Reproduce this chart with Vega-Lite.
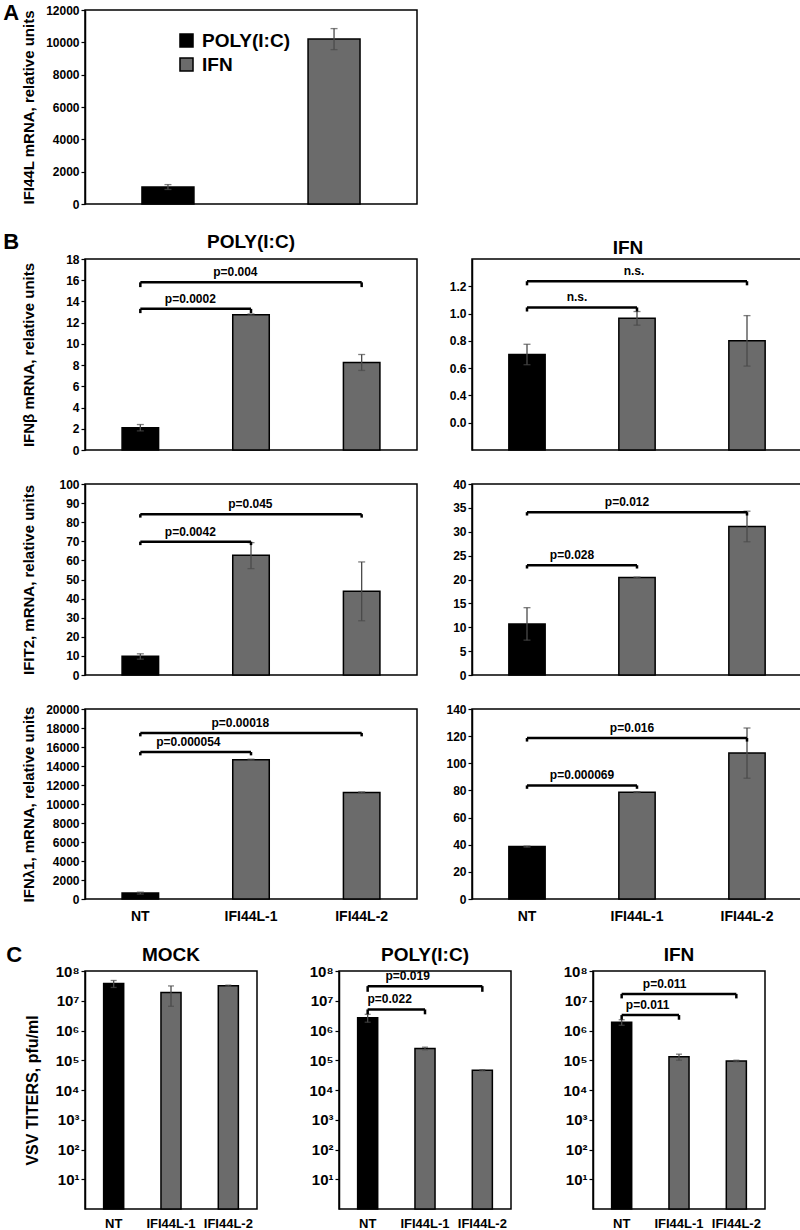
{
"$schema": "https://vega.github.io/schema/vega-lite/v6.json",
"background": "white",
"padding": {"left": 3, "top": 2, "right": 0, "bottom": 0},
"datasets": {
"bars": [
{"panel":"A","g":"POLY(I:C)","v":1050,"lo":900,"hi":1200},
{"panel":"A","g":"IFN","v":10200,"lo":9550,"hi":10850},
{"panel":"b1p","g":"NT","v":2.1,"lo":1.8,"hi":2.4},
{"panel":"b1p","g":"IFI44L-1","v":12.75,"lo":12.68,"hi":12.82},
{"panel":"b1p","g":"IFI44L-2","v":8.25,"lo":7.5,"hi":9.0},
{"panel":"b1i","g":"NT","v":0.70,"lo":0.625,"hi":0.775},
{"panel":"b1i","g":"IFI44L-1","v":0.965,"lo":0.915,"hi":1.015},
{"panel":"b1i","g":"IFI44L-2","v":0.80,"lo":0.615,"hi":0.985},
{"panel":"b2p","g":"NT","v":9.8,"lo":8.3,"hi":11.1},
{"panel":"b2p","g":"IFI44L-1","v":62.7,"lo":55.7,"hi":69.3},
{"panel":"b2p","g":"IFI44L-2","v":43.8,"lo":28.4,"hi":59.2},
{"panel":"b2i","g":"NT","v":10.7,"lo":7.3,"hi":14.1},
{"panel":"b2i","g":"IFI44L-1","v":20.4,"lo":20.3,"hi":20.5},
{"panel":"b2i","g":"IFI44L-2","v":31.1,"lo":27.9,"hi":34.3},
{"panel":"b3p","g":"NT","v":620,"lo":520,"hi":720},
{"panel":"b3p","g":"IFI44L-1","v":14660,"lo":14600,"hi":14720},
{"panel":"b3p","g":"IFI44L-2","v":11220,"lo":11170,"hi":11270},
{"panel":"b3i","g":"NT","v":38.6,"lo":38.2,"hi":39.0},
{"panel":"b3i","g":"IFI44L-1","v":78.7,"lo":78.3,"hi":79.1},
{"panel":"b3i","g":"IFI44L-2","v":107.5,"lo":89,"hi":126},
{"panel":"cm","g":"NT","v":38000000,"lo":28000000,"hi":48000000},
{"panel":"cm","g":"IFI44L-1","v":19000000,"lo":6500000,"hi":31500000},
{"panel":"cm","g":"IFI44L-2","v":32000000,"lo":30500000,"hi":33500000},
{"panel":"cp","g":"NT","v":2700000,"lo":1900000,"hi":3500000},
{"panel":"cp","g":"IFI44L-1","v":250000,"lo":225000,"hi":275000},
{"panel":"cp","g":"IFI44L-2","v":46000,"lo":44000,"hi":48000},
{"panel":"ci","g":"NT","v":1900000,"lo":1500000,"hi":2300000},
{"panel":"ci","g":"IFI44L-1","v":130000,"lo":100000,"hi":160000},
{"panel":"ci","g":"IFI44L-2","v":95000,"lo":89000,"hi":100000}
],
"br": [
{"panel":"b1p","kind":"s","a":"NT","b":"IFI44L-1","y":13.3,"ye":12.9,"label":"p=0.0002"},
{"panel":"b1p","kind":"l","a":"NT","b":"IFI44L-2","y":15.8,"ye":15.35,"label":"p=0.004"},
{"panel":"b1i","kind":"s","a":"NT","b":"IFI44L-1","y":1.045,"ye":1.015,"label":"n.s."},
{"panel":"b1i","kind":"l","a":"NT","b":"IFI44L-2","y":1.237,"ye":1.207,"label":"n.s."},
{"panel":"b2p","kind":"s","a":"NT","b":"IFI44L-1","y":69.8,"ye":68,"label":"p=0.0042"},
{"panel":"b2p","kind":"l","a":"NT","b":"IFI44L-2","y":84.2,"ye":82.4,"label":"p=0.045"},
{"panel":"b2i","kind":"s","a":"NT","b":"IFI44L-1","y":23.0,"ye":22.3,"label":"p=0.028"},
{"panel":"b2i","kind":"l","a":"NT","b":"IFI44L-2","y":34.1,"ye":33.4,"label":"p=0.012"},
{"panel":"b3p","kind":"s","a":"NT","b":"IFI44L-1","y":15470,"ye":15120,"label":"p=0.000054"},
{"panel":"b3p","kind":"l","a":"NT","b":"IFI44L-2","y":17480,"ye":17120,"label":"p=0.00018"},
{"panel":"b3i","kind":"s","a":"NT","b":"IFI44L-1","y":83.7,"ye":81.2,"label":"p=0.000069"},
{"panel":"b3i","kind":"l","a":"NT","b":"IFI44L-2","y":118.6,"ye":116,"label":"p=0.016"},
{"panel":"cp","kind":"s","a":"NT","b":"IFI44L-1","y":5100000,"ye":3500000,"label":"p=0.022"},
{"panel":"cp","kind":"l","a":"NT","b":"IFI44L-2","y":31000000,"ye":20000000,"label":"p=0.019"},
{"panel":"ci","kind":"s","a":"NT","b":"IFI44L-1","y":3300000,"ye":2300000,"label":"p=0.011"},
{"panel":"ci","kind":"l","a":"NT","b":"IFI44L-2","y":17000000,"ye":12000000,"label":"p=0.011"}
]
},
"config": {
"font": "Liberation Sans",
"view": {"stroke": "black", "strokeWidth": 1.5},
"axis": {"grid": false, "domainColor": "black", "domainWidth": 1.5, "tickColor": "black", "tickWidth": 1.2, "tickSize": 4, "labelFont": "Liberation Sans", "labelFontWeight": "bold", "labelFontSize": 12, "labelColor": "black", "labelPadding": 2, "labelOverlap": false, "titleFont": "Liberation Sans", "titleFontWeight": "bold", "titleFontSize": 15, "titleColor": "black"},
"title": {"font": "Liberation Sans", "fontWeight": "bold", "fontSize": 19, "color": "black", "frame": "group", "offset": 4}
},
"spacing": 20,
"resolve": {"scale": {"x": "independent", "y": "independent", "color": "independent"}},
"vconcat": [
{
"title": {"text": "A", "anchor": "start", "frame": "bounds", "fontSize": 22, "dx": -17, "dy": 22, "offset": 0},
"resolve": {"scale": {"x": "independent", "y": "independent", "color": "independent"}},
"hconcat": [
{
"width": 332, "height": 194,
"layer": [
{"data": {"name": "bars"}, "transform": [{"filter": "datum.panel === 'A'"}],
 "mark": {"type": "bar", "stroke": "black", "strokeWidth": 1.5},
 "encoding": {
  "x": {"field": "g", "type": "nominal", "scale": {"domain": ["POLY(I:C)", "IFN"], "paddingInner": 0.687, "paddingOuter": 0.343}, "axis": null},
  "y": {"field": "v", "type": "quantitative", "scale": {"domain": [0, 12000], "nice": false}, "axis": {"title": "IFI44L mRNA, relative units", "values": [0,2000,4000,6000,8000,10000,12000], "tickCount": 30, "format": "d", "labelOverlap": false, "minExtent": 44, "maxExtent": 44, "titlePadding": 5}},
  "color": {"field": "g", "type": "nominal", "scale": {"domain": ["POLY(I:C)", "IFN"], "range": ["#000000", "#6b6b6b"]},
   "legend": {"orient": "none", "legendX": 92, "legendY": 21, "title": null, "symbolType": "square", "symbolSize": 170, "symbolStrokeColor": "black", "symbolStrokeWidth": 1.5, "symbolOpacity": 1, "labelFontSize": 19, "labelFontWeight": "bold", "labelColor": "black", "labelFont": "Liberation Sans", "rowPadding": 3, "labelOffset": 6, "padding": 0}}
 }},
{"data": {"name": "bars"}, "transform": [{"filter": "datum.panel === 'A'"}],
 "mark": {"type": "rule", "color": "#4a4a4a", "strokeWidth": 1.3},
 "encoding": {"x": {"field": "g", "type": "nominal", "scale": {"domain": ["POLY(I:C)", "IFN"], "paddingInner": 0.687, "paddingOuter": 0.343}, "axis": null}, "y": {"field": "lo", "type": "quantitative"}, "y2": {"field": "hi"}}},
{"data": {"name": "bars"}, "transform": [{"filter": "datum.panel === 'A'"}],
 "mark": {"type": "tick", "color": "#4a4a4a", "size": 7, "thickness": 1.3},
 "encoding": {"x": {"field": "g", "type": "nominal", "scale": {"domain": ["POLY(I:C)", "IFN"], "paddingInner": 0.687, "paddingOuter": 0.343}, "axis": null}, "y": {"field": "lo", "type": "quantitative"}}},
{"data": {"name": "bars"}, "transform": [{"filter": "datum.panel === 'A'"}],
 "mark": {"type": "tick", "color": "#4a4a4a", "size": 7, "thickness": 1.3},
 "encoding": {"x": {"field": "g", "type": "nominal", "scale": {"domain": ["POLY(I:C)", "IFN"], "paddingInner": 0.687, "paddingOuter": 0.343}, "axis": null}, "y": {"field": "hi", "type": "quantitative"}}}
]
}
]
},
{
"title": {"text": "B", "anchor": "start", "frame": "bounds", "fontSize": 22, "dx": -17, "dy": 22, "offset": 0},
"resolve": {"scale": {"x": "independent", "y": "independent", "color": "independent"}},
"columns": 2,
"spacing": {"row": 20, "column": 27},
"concat": [
{
"width": 332, "height": 191,
"title": {"text": "POLY(I:C)", "offset": 1},
"layer": [
{"data": {"name": "bars"}, "transform": [{"filter": "datum.panel === 'b1p'"}],
 "mark": {"type": "bar", "stroke": "black", "strokeWidth": 1.5},
 "encoding": {
  "x": {"field": "g", "type": "nominal", "scale": {"domain": ["NT","IFI44L-1","IFI44L-2"], "paddingInner": 0.67, "paddingOuter": 0.335}, "axis": null},
  "y": {"field": "v", "type": "quantitative", "scale": {"domain": [0, 18], "nice": false}, "axis": {"title": "IFNβ mRNA, relative units", "values": [0,2,4,6,8,10,12,14,16,18], "tickCount": 30, "format": "d", "labelOverlap": false, "minExtent": 44, "maxExtent": 44, "titlePadding": 5}},
  "color": {"field": "g", "type": "nominal", "scale": {"domain": ["NT","IFI44L-1","IFI44L-2"], "range": ["#000000","#6b6b6b","#6b6b6b"]}, "legend": null}}},
{"data": {"name": "bars"}, "transform": [{"filter": "datum.panel === 'b1p'"}], "mark": {"type": "rule", "color": "#4a4a4a", "strokeWidth": 1.3},
 "encoding": {"x": {"field": "g", "type": "nominal", "scale": {"domain": ["NT","IFI44L-1","IFI44L-2"], "paddingInner": 0.67, "paddingOuter": 0.335}, "axis": null}, "y": {"field": "lo", "type": "quantitative"}, "y2": {"field": "hi"}}},
{"data": {"name": "bars"}, "transform": [{"filter": "datum.panel === 'b1p'"}], "mark": {"type": "tick", "color": "#4a4a4a", "size": 7, "thickness": 1.3},
 "encoding": {"x": {"field": "g", "type": "nominal", "scale": {"domain": ["NT","IFI44L-1","IFI44L-2"], "paddingInner": 0.67, "paddingOuter": 0.335}, "axis": null}, "y": {"field": "lo", "type": "quantitative"}}},
{"data": {"name": "bars"}, "transform": [{"filter": "datum.panel === 'b1p'"}], "mark": {"type": "tick", "color": "#4a4a4a", "size": 7, "thickness": 1.3},
 "encoding": {"x": {"field": "g", "type": "nominal", "scale": {"domain": ["NT","IFI44L-1","IFI44L-2"], "paddingInner": 0.67, "paddingOuter": 0.335}, "axis": null}, "y": {"field": "hi", "type": "quantitative"}}},
{"data": {"name": "br"}, "transform": [{"filter": "datum.panel === 'b1p'"}], "mark": {"type": "rule", "color": "black", "strokeWidth": 2.5},
 "encoding": {"x": {"field": "a", "type": "nominal", "scale": {"domain": ["NT","IFI44L-1","IFI44L-2"], "paddingInner": 0.67, "paddingOuter": 0.335}, "axis": null}, "x2": {"field": "b"}, "y": {"field": "y", "type": "quantitative"}}},
{"data": {"name": "br"}, "transform": [{"filter": "datum.panel === 'b1p'"}], "mark": {"type": "rule", "color": "black", "strokeWidth": 2.5},
 "encoding": {"x": {"field": "a", "type": "nominal", "scale": {"domain": ["NT","IFI44L-1","IFI44L-2"], "paddingInner": 0.67, "paddingOuter": 0.335}, "axis": null}, "y": {"field": "y", "type": "quantitative"}, "y2": {"field": "ye"}}},
{"data": {"name": "br"}, "transform": [{"filter": "datum.panel === 'b1p'"}], "mark": {"type": "rule", "color": "black", "strokeWidth": 2.5},
 "encoding": {"x": {"field": "b", "type": "nominal", "scale": {"domain": ["NT","IFI44L-1","IFI44L-2"], "paddingInner": 0.67, "paddingOuter": 0.335}, "axis": null}, "y": {"field": "y", "type": "quantitative"}, "y2": {"field": "ye"}}},
{"data": {"name": "br"}, "transform": [{"filter": "datum.panel === 'b1p' && datum.kind === 's'"}], "mark": {"type": "text", "dx": 50, "dy": -3, "baseline": "bottom", "fontSize": 12, "fontWeight": "bold", "color": "black"},
 "encoding": {"x": {"field": "a", "type": "nominal", "scale": {"domain": ["NT","IFI44L-1","IFI44L-2"], "paddingInner": 0.67, "paddingOuter": 0.335}, "axis": null}, "y": {"field": "y", "type": "quantitative"}, "text": {"field": "label"}}},
{"data": {"name": "br"}, "transform": [{"filter": "datum.panel === 'b1p' && datum.kind === 'l'"}], "mark": {"type": "text", "dx": 95, "dy": -3, "baseline": "bottom", "fontSize": 12, "fontWeight": "bold", "color": "black"},
 "encoding": {"x": {"field": "a", "type": "nominal", "scale": {"domain": ["NT","IFI44L-1","IFI44L-2"], "paddingInner": 0.67, "paddingOuter": 0.335}, "axis": null}, "y": {"field": "y", "type": "quantitative"}, "text": {"field": "label"}}}
]
},
{
"width": 330, "height": 191,
"title": {"text": "IFN", "offset": 1, "dx": -9},
"layer": [
{"data": {"name": "bars"}, "transform": [{"filter": "datum.panel === 'b1i'"}],
 "mark": {"type": "bar", "stroke": "black", "strokeWidth": 1.5},
 "encoding": {
  "x": {"field": "g", "type": "nominal", "scale": {"domain": ["NT","IFI44L-1","IFI44L-2"], "paddingInner": 0.67, "paddingOuter": 0.335}, "axis": null},
  "y": {"field": "v", "type": "quantitative", "scale": {"domain": [0, 1.4], "nice": false}, "axis": {"title": null, "values": [0.2,0.4,0.6,0.8,1.0,1.2], "tickCount": 30, "labelOverlap": false, "labelExpr": "datum.value < 0.3 ? '0.0' : format(datum.value, '.1f')"}},
  "color": {"field": "g", "type": "nominal", "scale": {"domain": ["NT","IFI44L-1","IFI44L-2"], "range": ["#000000","#6b6b6b","#6b6b6b"]}, "legend": null}}},
{"data": {"name": "bars"}, "transform": [{"filter": "datum.panel === 'b1i'"}], "mark": {"type": "rule", "color": "#4a4a4a", "strokeWidth": 1.3},
 "encoding": {"x": {"field": "g", "type": "nominal", "scale": {"domain": ["NT","IFI44L-1","IFI44L-2"], "paddingInner": 0.67, "paddingOuter": 0.335}, "axis": null}, "y": {"field": "lo", "type": "quantitative"}, "y2": {"field": "hi"}}},
{"data": {"name": "bars"}, "transform": [{"filter": "datum.panel === 'b1i'"}], "mark": {"type": "tick", "color": "#4a4a4a", "size": 7, "thickness": 1.3},
 "encoding": {"x": {"field": "g", "type": "nominal", "scale": {"domain": ["NT","IFI44L-1","IFI44L-2"], "paddingInner": 0.67, "paddingOuter": 0.335}, "axis": null}, "y": {"field": "lo", "type": "quantitative"}}},
{"data": {"name": "bars"}, "transform": [{"filter": "datum.panel === 'b1i'"}], "mark": {"type": "tick", "color": "#4a4a4a", "size": 7, "thickness": 1.3},
 "encoding": {"x": {"field": "g", "type": "nominal", "scale": {"domain": ["NT","IFI44L-1","IFI44L-2"], "paddingInner": 0.67, "paddingOuter": 0.335}, "axis": null}, "y": {"field": "hi", "type": "quantitative"}}},
{"data": {"name": "br"}, "transform": [{"filter": "datum.panel === 'b1i'"}], "mark": {"type": "rule", "color": "black", "strokeWidth": 2.5},
 "encoding": {"x": {"field": "a", "type": "nominal", "scale": {"domain": ["NT","IFI44L-1","IFI44L-2"], "paddingInner": 0.67, "paddingOuter": 0.335}, "axis": null}, "x2": {"field": "b"}, "y": {"field": "y", "type": "quantitative"}}},
{"data": {"name": "br"}, "transform": [{"filter": "datum.panel === 'b1i'"}], "mark": {"type": "rule", "color": "black", "strokeWidth": 2.5},
 "encoding": {"x": {"field": "a", "type": "nominal", "scale": {"domain": ["NT","IFI44L-1","IFI44L-2"], "paddingInner": 0.67, "paddingOuter": 0.335}, "axis": null}, "y": {"field": "y", "type": "quantitative"}, "y2": {"field": "ye"}}},
{"data": {"name": "br"}, "transform": [{"filter": "datum.panel === 'b1i'"}], "mark": {"type": "rule", "color": "black", "strokeWidth": 2.5},
 "encoding": {"x": {"field": "b", "type": "nominal", "scale": {"domain": ["NT","IFI44L-1","IFI44L-2"], "paddingInner": 0.67, "paddingOuter": 0.335}, "axis": null}, "y": {"field": "y", "type": "quantitative"}, "y2": {"field": "ye"}}},
{"data": {"name": "br"}, "transform": [{"filter": "datum.panel === 'b1i' && datum.kind === 's'"}], "mark": {"type": "text", "dx": 50, "dy": -3, "baseline": "bottom", "fontSize": 12, "fontWeight": "bold", "color": "black"},
 "encoding": {"x": {"field": "a", "type": "nominal", "scale": {"domain": ["NT","IFI44L-1","IFI44L-2"], "paddingInner": 0.67, "paddingOuter": 0.335}, "axis": null}, "y": {"field": "y", "type": "quantitative"}, "text": {"field": "label"}}},
{"data": {"name": "br"}, "transform": [{"filter": "datum.panel === 'b1i' && datum.kind === 'l'"}], "mark": {"type": "text", "dx": 107, "dy": -3, "baseline": "bottom", "fontSize": 12, "fontWeight": "bold", "color": "black"},
 "encoding": {"x": {"field": "a", "type": "nominal", "scale": {"domain": ["NT","IFI44L-1","IFI44L-2"], "paddingInner": 0.67, "paddingOuter": 0.335}, "axis": null}, "y": {"field": "y", "type": "quantitative"}, "text": {"field": "label"}}}
]
},
{
"width": 332, "height": 191,
"layer": [
{"data": {"name": "bars"}, "transform": [{"filter": "datum.panel === 'b2p'"}],
 "mark": {"type": "bar", "stroke": "black", "strokeWidth": 1.5},
 "encoding": {
  "x": {"field": "g", "type": "nominal", "scale": {"domain": ["NT","IFI44L-1","IFI44L-2"], "paddingInner": 0.67, "paddingOuter": 0.335}, "axis": null},
  "y": {"field": "v", "type": "quantitative", "scale": {"domain": [0, 100], "nice": false}, "axis": {"title": "IFIT2, mRNA, relative units", "values": [0,10,20,30,40,50,60,70,80,90,100], "tickCount": 30, "format": "d", "labelOverlap": false, "minExtent": 44, "maxExtent": 44, "titlePadding": 5}},
  "color": {"field": "g", "type": "nominal", "scale": {"domain": ["NT","IFI44L-1","IFI44L-2"], "range": ["#000000","#6b6b6b","#6b6b6b"]}, "legend": null}}},
{"data": {"name": "bars"}, "transform": [{"filter": "datum.panel === 'b2p'"}], "mark": {"type": "rule", "color": "#4a4a4a", "strokeWidth": 1.3},
 "encoding": {"x": {"field": "g", "type": "nominal", "scale": {"domain": ["NT","IFI44L-1","IFI44L-2"], "paddingInner": 0.67, "paddingOuter": 0.335}, "axis": null}, "y": {"field": "lo", "type": "quantitative"}, "y2": {"field": "hi"}}},
{"data": {"name": "bars"}, "transform": [{"filter": "datum.panel === 'b2p'"}], "mark": {"type": "tick", "color": "#4a4a4a", "size": 7, "thickness": 1.3},
 "encoding": {"x": {"field": "g", "type": "nominal", "scale": {"domain": ["NT","IFI44L-1","IFI44L-2"], "paddingInner": 0.67, "paddingOuter": 0.335}, "axis": null}, "y": {"field": "lo", "type": "quantitative"}}},
{"data": {"name": "bars"}, "transform": [{"filter": "datum.panel === 'b2p'"}], "mark": {"type": "tick", "color": "#4a4a4a", "size": 7, "thickness": 1.3},
 "encoding": {"x": {"field": "g", "type": "nominal", "scale": {"domain": ["NT","IFI44L-1","IFI44L-2"], "paddingInner": 0.67, "paddingOuter": 0.335}, "axis": null}, "y": {"field": "hi", "type": "quantitative"}}},
{"data": {"name": "br"}, "transform": [{"filter": "datum.panel === 'b2p'"}], "mark": {"type": "rule", "color": "black", "strokeWidth": 2.5},
 "encoding": {"x": {"field": "a", "type": "nominal", "scale": {"domain": ["NT","IFI44L-1","IFI44L-2"], "paddingInner": 0.67, "paddingOuter": 0.335}, "axis": null}, "x2": {"field": "b"}, "y": {"field": "y", "type": "quantitative"}}},
{"data": {"name": "br"}, "transform": [{"filter": "datum.panel === 'b2p'"}], "mark": {"type": "rule", "color": "black", "strokeWidth": 2.5},
 "encoding": {"x": {"field": "a", "type": "nominal", "scale": {"domain": ["NT","IFI44L-1","IFI44L-2"], "paddingInner": 0.67, "paddingOuter": 0.335}, "axis": null}, "y": {"field": "y", "type": "quantitative"}, "y2": {"field": "ye"}}},
{"data": {"name": "br"}, "transform": [{"filter": "datum.panel === 'b2p'"}], "mark": {"type": "rule", "color": "black", "strokeWidth": 2.5},
 "encoding": {"x": {"field": "b", "type": "nominal", "scale": {"domain": ["NT","IFI44L-1","IFI44L-2"], "paddingInner": 0.67, "paddingOuter": 0.335}, "axis": null}, "y": {"field": "y", "type": "quantitative"}, "y2": {"field": "ye"}}},
{"data": {"name": "br"}, "transform": [{"filter": "datum.panel === 'b2p' && datum.kind === 's'"}], "mark": {"type": "text", "dx": 50, "dy": -3, "baseline": "bottom", "fontSize": 12, "fontWeight": "bold", "color": "black"},
 "encoding": {"x": {"field": "a", "type": "nominal", "scale": {"domain": ["NT","IFI44L-1","IFI44L-2"], "paddingInner": 0.67, "paddingOuter": 0.335}, "axis": null}, "y": {"field": "y", "type": "quantitative"}, "text": {"field": "label"}}},
{"data": {"name": "br"}, "transform": [{"filter": "datum.panel === 'b2p' && datum.kind === 'l'"}], "mark": {"type": "text", "dx": 110, "dy": -3, "baseline": "bottom", "fontSize": 12, "fontWeight": "bold", "color": "black"},
 "encoding": {"x": {"field": "a", "type": "nominal", "scale": {"domain": ["NT","IFI44L-1","IFI44L-2"], "paddingInner": 0.67, "paddingOuter": 0.335}, "axis": null}, "y": {"field": "y", "type": "quantitative"}, "text": {"field": "label"}}}
]
},
{
"width": 330, "height": 191,
"layer": [
{"data": {"name": "bars"}, "transform": [{"filter": "datum.panel === 'b2i'"}],
 "mark": {"type": "bar", "stroke": "black", "strokeWidth": 1.5},
 "encoding": {
  "x": {"field": "g", "type": "nominal", "scale": {"domain": ["NT","IFI44L-1","IFI44L-2"], "paddingInner": 0.67, "paddingOuter": 0.335}, "axis": null},
  "y": {"field": "v", "type": "quantitative", "scale": {"domain": [0, 40], "nice": false}, "axis": {"title": null, "values": [0,5,10,15,20,25,30,35,40], "tickCount": 30, "format": "d", "labelOverlap": false}},
  "color": {"field": "g", "type": "nominal", "scale": {"domain": ["NT","IFI44L-1","IFI44L-2"], "range": ["#000000","#6b6b6b","#6b6b6b"]}, "legend": null}}},
{"data": {"name": "bars"}, "transform": [{"filter": "datum.panel === 'b2i'"}], "mark": {"type": "rule", "color": "#4a4a4a", "strokeWidth": 1.3},
 "encoding": {"x": {"field": "g", "type": "nominal", "scale": {"domain": ["NT","IFI44L-1","IFI44L-2"], "paddingInner": 0.67, "paddingOuter": 0.335}, "axis": null}, "y": {"field": "lo", "type": "quantitative"}, "y2": {"field": "hi"}}},
{"data": {"name": "bars"}, "transform": [{"filter": "datum.panel === 'b2i'"}], "mark": {"type": "tick", "color": "#4a4a4a", "size": 7, "thickness": 1.3},
 "encoding": {"x": {"field": "g", "type": "nominal", "scale": {"domain": ["NT","IFI44L-1","IFI44L-2"], "paddingInner": 0.67, "paddingOuter": 0.335}, "axis": null}, "y": {"field": "lo", "type": "quantitative"}}},
{"data": {"name": "bars"}, "transform": [{"filter": "datum.panel === 'b2i'"}], "mark": {"type": "tick", "color": "#4a4a4a", "size": 7, "thickness": 1.3},
 "encoding": {"x": {"field": "g", "type": "nominal", "scale": {"domain": ["NT","IFI44L-1","IFI44L-2"], "paddingInner": 0.67, "paddingOuter": 0.335}, "axis": null}, "y": {"field": "hi", "type": "quantitative"}}},
{"data": {"name": "br"}, "transform": [{"filter": "datum.panel === 'b2i'"}], "mark": {"type": "rule", "color": "black", "strokeWidth": 2.5},
 "encoding": {"x": {"field": "a", "type": "nominal", "scale": {"domain": ["NT","IFI44L-1","IFI44L-2"], "paddingInner": 0.67, "paddingOuter": 0.335}, "axis": null}, "x2": {"field": "b"}, "y": {"field": "y", "type": "quantitative"}}},
{"data": {"name": "br"}, "transform": [{"filter": "datum.panel === 'b2i'"}], "mark": {"type": "rule", "color": "black", "strokeWidth": 2.5},
 "encoding": {"x": {"field": "a", "type": "nominal", "scale": {"domain": ["NT","IFI44L-1","IFI44L-2"], "paddingInner": 0.67, "paddingOuter": 0.335}, "axis": null}, "y": {"field": "y", "type": "quantitative"}, "y2": {"field": "ye"}}},
{"data": {"name": "br"}, "transform": [{"filter": "datum.panel === 'b2i'"}], "mark": {"type": "rule", "color": "black", "strokeWidth": 2.5},
 "encoding": {"x": {"field": "b", "type": "nominal", "scale": {"domain": ["NT","IFI44L-1","IFI44L-2"], "paddingInner": 0.67, "paddingOuter": 0.335}, "axis": null}, "y": {"field": "y", "type": "quantitative"}, "y2": {"field": "ye"}}},
{"data": {"name": "br"}, "transform": [{"filter": "datum.panel === 'b2i' && datum.kind === 's'"}], "mark": {"type": "text", "dx": 45, "dy": -3, "baseline": "bottom", "fontSize": 12, "fontWeight": "bold", "color": "black"},
 "encoding": {"x": {"field": "a", "type": "nominal", "scale": {"domain": ["NT","IFI44L-1","IFI44L-2"], "paddingInner": 0.67, "paddingOuter": 0.335}, "axis": null}, "y": {"field": "y", "type": "quantitative"}, "text": {"field": "label"}}},
{"data": {"name": "br"}, "transform": [{"filter": "datum.panel === 'b2i' && datum.kind === 'l'"}], "mark": {"type": "text", "dx": 100, "dy": -3, "baseline": "bottom", "fontSize": 12, "fontWeight": "bold", "color": "black"},
 "encoding": {"x": {"field": "a", "type": "nominal", "scale": {"domain": ["NT","IFI44L-1","IFI44L-2"], "paddingInner": 0.67, "paddingOuter": 0.335}, "axis": null}, "y": {"field": "y", "type": "quantitative"}, "text": {"field": "label"}}}
]
},
{
"width": 332, "height": 190,
"layer": [
{"data": {"name": "bars"}, "transform": [{"filter": "datum.panel === 'b3p'"}],
 "mark": {"type": "bar", "stroke": "black", "strokeWidth": 1.5},
 "encoding": {
  "x": {"field": "g", "type": "nominal", "scale": {"domain": ["NT","IFI44L-1","IFI44L-2"], "paddingInner": 0.67, "paddingOuter": 0.335}, "axis": {"title": null, "labelFontSize": 14, "labelPadding": 10, "ticks": false, "domain": false, "labelAngle": 0}},
  "y": {"field": "v", "type": "quantitative", "scale": {"domain": [0, 20000], "nice": false}, "axis": {"title": "IFNλ1, mRNA, relative units", "values": [0,2000,4000,6000,8000,10000,12000,14000,16000,18000,20000], "tickCount": 30, "format": "d", "labelOverlap": false, "minExtent": 44, "maxExtent": 44, "titlePadding": 5}},
  "color": {"field": "g", "type": "nominal", "scale": {"domain": ["NT","IFI44L-1","IFI44L-2"], "range": ["#000000","#6b6b6b","#6b6b6b"]}, "legend": null}}},
{"data": {"name": "bars"}, "transform": [{"filter": "datum.panel === 'b3p'"}], "mark": {"type": "rule", "color": "#4a4a4a", "strokeWidth": 1.3},
 "encoding": {"x": {"field": "g", "type": "nominal", "scale": {"domain": ["NT","IFI44L-1","IFI44L-2"], "paddingInner": 0.67, "paddingOuter": 0.335}}, "y": {"field": "lo", "type": "quantitative"}, "y2": {"field": "hi"}}},
{"data": {"name": "bars"}, "transform": [{"filter": "datum.panel === 'b3p'"}], "mark": {"type": "tick", "color": "#4a4a4a", "size": 7, "thickness": 1.3},
 "encoding": {"x": {"field": "g", "type": "nominal", "scale": {"domain": ["NT","IFI44L-1","IFI44L-2"], "paddingInner": 0.67, "paddingOuter": 0.335}}, "y": {"field": "lo", "type": "quantitative"}}},
{"data": {"name": "bars"}, "transform": [{"filter": "datum.panel === 'b3p'"}], "mark": {"type": "tick", "color": "#4a4a4a", "size": 7, "thickness": 1.3},
 "encoding": {"x": {"field": "g", "type": "nominal", "scale": {"domain": ["NT","IFI44L-1","IFI44L-2"], "paddingInner": 0.67, "paddingOuter": 0.335}}, "y": {"field": "hi", "type": "quantitative"}}},
{"data": {"name": "br"}, "transform": [{"filter": "datum.panel === 'b3p'"}], "mark": {"type": "rule", "color": "black", "strokeWidth": 2.5},
 "encoding": {"x": {"field": "a", "type": "nominal", "scale": {"domain": ["NT","IFI44L-1","IFI44L-2"], "paddingInner": 0.67, "paddingOuter": 0.335}}, "x2": {"field": "b"}, "y": {"field": "y", "type": "quantitative"}}},
{"data": {"name": "br"}, "transform": [{"filter": "datum.panel === 'b3p'"}], "mark": {"type": "rule", "color": "black", "strokeWidth": 2.5},
 "encoding": {"x": {"field": "a", "type": "nominal", "scale": {"domain": ["NT","IFI44L-1","IFI44L-2"], "paddingInner": 0.67, "paddingOuter": 0.335}}, "y": {"field": "y", "type": "quantitative"}, "y2": {"field": "ye"}}},
{"data": {"name": "br"}, "transform": [{"filter": "datum.panel === 'b3p'"}], "mark": {"type": "rule", "color": "black", "strokeWidth": 2.5},
 "encoding": {"x": {"field": "b", "type": "nominal", "scale": {"domain": ["NT","IFI44L-1","IFI44L-2"], "paddingInner": 0.67, "paddingOuter": 0.335}}, "y": {"field": "y", "type": "quantitative"}, "y2": {"field": "ye"}}},
{"data": {"name": "br"}, "transform": [{"filter": "datum.panel === 'b3p' && datum.kind === 's'"}], "mark": {"type": "text", "dx": 48, "dy": -3, "baseline": "bottom", "fontSize": 12, "fontWeight": "bold", "color": "black"},
 "encoding": {"x": {"field": "a", "type": "nominal", "scale": {"domain": ["NT","IFI44L-1","IFI44L-2"], "paddingInner": 0.67, "paddingOuter": 0.335}}, "y": {"field": "y", "type": "quantitative"}, "text": {"field": "label"}}},
{"data": {"name": "br"}, "transform": [{"filter": "datum.panel === 'b3p' && datum.kind === 'l'"}], "mark": {"type": "text", "dx": 100, "dy": -3, "baseline": "bottom", "fontSize": 12, "fontWeight": "bold", "color": "black"},
 "encoding": {"x": {"field": "a", "type": "nominal", "scale": {"domain": ["NT","IFI44L-1","IFI44L-2"], "paddingInner": 0.67, "paddingOuter": 0.335}}, "y": {"field": "y", "type": "quantitative"}, "text": {"field": "label"}}}
]
},
{
"width": 330, "height": 190,
"layer": [
{"data": {"name": "bars"}, "transform": [{"filter": "datum.panel === 'b3i'"}],
 "mark": {"type": "bar", "stroke": "black", "strokeWidth": 1.5},
 "encoding": {
  "x": {"field": "g", "type": "nominal", "scale": {"domain": ["NT","IFI44L-1","IFI44L-2"], "paddingInner": 0.67, "paddingOuter": 0.335}, "axis": {"title": null, "labelFontSize": 14, "labelPadding": 10, "ticks": false, "domain": false, "labelAngle": 0}},
  "y": {"field": "v", "type": "quantitative", "scale": {"domain": [0, 140], "nice": false}, "axis": {"title": null, "values": [0,20,40,60,80,100,120,140], "tickCount": 30, "format": "d", "labelOverlap": false}},
  "color": {"field": "g", "type": "nominal", "scale": {"domain": ["NT","IFI44L-1","IFI44L-2"], "range": ["#000000","#6b6b6b","#6b6b6b"]}, "legend": null}}},
{"data": {"name": "bars"}, "transform": [{"filter": "datum.panel === 'b3i'"}], "mark": {"type": "rule", "color": "#4a4a4a", "strokeWidth": 1.3},
 "encoding": {"x": {"field": "g", "type": "nominal", "scale": {"domain": ["NT","IFI44L-1","IFI44L-2"], "paddingInner": 0.67, "paddingOuter": 0.335}}, "y": {"field": "lo", "type": "quantitative"}, "y2": {"field": "hi"}}},
{"data": {"name": "bars"}, "transform": [{"filter": "datum.panel === 'b3i'"}], "mark": {"type": "tick", "color": "#4a4a4a", "size": 7, "thickness": 1.3},
 "encoding": {"x": {"field": "g", "type": "nominal", "scale": {"domain": ["NT","IFI44L-1","IFI44L-2"], "paddingInner": 0.67, "paddingOuter": 0.335}}, "y": {"field": "lo", "type": "quantitative"}}},
{"data": {"name": "bars"}, "transform": [{"filter": "datum.panel === 'b3i'"}], "mark": {"type": "tick", "color": "#4a4a4a", "size": 7, "thickness": 1.3},
 "encoding": {"x": {"field": "g", "type": "nominal", "scale": {"domain": ["NT","IFI44L-1","IFI44L-2"], "paddingInner": 0.67, "paddingOuter": 0.335}}, "y": {"field": "hi", "type": "quantitative"}}},
{"data": {"name": "br"}, "transform": [{"filter": "datum.panel === 'b3i'"}], "mark": {"type": "rule", "color": "black", "strokeWidth": 2.5},
 "encoding": {"x": {"field": "a", "type": "nominal", "scale": {"domain": ["NT","IFI44L-1","IFI44L-2"], "paddingInner": 0.67, "paddingOuter": 0.335}}, "x2": {"field": "b"}, "y": {"field": "y", "type": "quantitative"}}},
{"data": {"name": "br"}, "transform": [{"filter": "datum.panel === 'b3i'"}], "mark": {"type": "rule", "color": "black", "strokeWidth": 2.5},
 "encoding": {"x": {"field": "a", "type": "nominal", "scale": {"domain": ["NT","IFI44L-1","IFI44L-2"], "paddingInner": 0.67, "paddingOuter": 0.335}}, "y": {"field": "y", "type": "quantitative"}, "y2": {"field": "ye"}}},
{"data": {"name": "br"}, "transform": [{"filter": "datum.panel === 'b3i'"}], "mark": {"type": "rule", "color": "black", "strokeWidth": 2.5},
 "encoding": {"x": {"field": "b", "type": "nominal", "scale": {"domain": ["NT","IFI44L-1","IFI44L-2"], "paddingInner": 0.67, "paddingOuter": 0.335}}, "y": {"field": "y", "type": "quantitative"}, "y2": {"field": "ye"}}},
{"data": {"name": "br"}, "transform": [{"filter": "datum.panel === 'b3i' && datum.kind === 's'"}], "mark": {"type": "text", "dx": 55, "dy": -3, "baseline": "bottom", "fontSize": 12, "fontWeight": "bold", "color": "black"},
 "encoding": {"x": {"field": "a", "type": "nominal", "scale": {"domain": ["NT","IFI44L-1","IFI44L-2"], "paddingInner": 0.67, "paddingOuter": 0.335}}, "y": {"field": "y", "type": "quantitative"}, "text": {"field": "label"}}},
{"data": {"name": "br"}, "transform": [{"filter": "datum.panel === 'b3i' && datum.kind === 'l'"}], "mark": {"type": "text", "dx": 105, "dy": -3, "baseline": "bottom", "fontSize": 12, "fontWeight": "bold", "color": "black"},
 "encoding": {"x": {"field": "a", "type": "nominal", "scale": {"domain": ["NT","IFI44L-1","IFI44L-2"], "paddingInner": 0.67, "paddingOuter": 0.335}}, "y": {"field": "y", "type": "quantitative"}, "text": {"field": "label"}}}
]
}
]
},
{
"title": {"text": "C", "anchor": "start", "frame": "bounds", "fontSize": 22, "dx": -17, "dy": 22, "offset": 0},
"resolve": {"scale": {"x": "independent", "y": "independent", "color": "independent"}},
"spacing": 50,
"hconcat": [
{
"width": 172, "height": 238,
"title": {"text": "MOCK", "offset": -1},
"layer": [
{"data": {"name": "bars"}, "transform": [{"filter": "datum.panel === 'cm'"}],
 "mark": {"type": "bar", "stroke": "black", "strokeWidth": 1.5},
 "encoding": {
  "x": {"field": "g", "type": "nominal", "scale": {"domain": ["NT","IFI44L-1","IFI44L-2"], "paddingInner": 0.65, "paddingOuter": 0.325}, "axis": {"title": null, "labelFontSize": 13, "labelPadding": 8, "ticks": false, "domain": false, "labelAngle": 0}},
  "y": {"field": "v", "type": "quantitative", "scale": {"type": "log", "domain": [1, 100000000], "nice": false}, "axis": {"title": "VSV TITERS, pfu/ml", "titleFontSize": 16, "values": [10,100,1000,10000,100000,1000000,10000000,100000000], "tickCount": 30, "labelOverlap": false, "labelExpr": "'10' + ['','¹','²','³','⁴','⁵','⁶','⁷','⁸'][round(log(datum.value)/LN10)]", "labelFontSize": 15, "minExtent": 44, "maxExtent": 44, "titlePadding": 1}},
  "y2": {"datum": 1},
  "color": {"field": "g", "type": "nominal", "scale": {"domain": ["NT","IFI44L-1","IFI44L-2"], "range": ["#000000","#6b6b6b","#6b6b6b"]}, "legend": null}}},
{"data": {"name": "bars"}, "transform": [{"filter": "datum.panel === 'cm'"}], "mark": {"type": "rule", "color": "#4a4a4a", "strokeWidth": 1.3},
 "encoding": {"x": {"field": "g", "type": "nominal", "scale": {"domain": ["NT","IFI44L-1","IFI44L-2"], "paddingInner": 0.65, "paddingOuter": 0.325}}, "y": {"field": "lo", "type": "quantitative"}, "y2": {"field": "hi"}}},
{"data": {"name": "bars"}, "transform": [{"filter": "datum.panel === 'cm'"}], "mark": {"type": "tick", "color": "#4a4a4a", "size": 6, "thickness": 1.3},
 "encoding": {"x": {"field": "g", "type": "nominal", "scale": {"domain": ["NT","IFI44L-1","IFI44L-2"], "paddingInner": 0.65, "paddingOuter": 0.325}}, "y": {"field": "lo", "type": "quantitative"}}},
{"data": {"name": "bars"}, "transform": [{"filter": "datum.panel === 'cm'"}], "mark": {"type": "tick", "color": "#4a4a4a", "size": 6, "thickness": 1.3},
 "encoding": {"x": {"field": "g", "type": "nominal", "scale": {"domain": ["NT","IFI44L-1","IFI44L-2"], "paddingInner": 0.65, "paddingOuter": 0.325}}, "y": {"field": "hi", "type": "quantitative"}}}
]
},
{
"width": 172, "height": 238,
"title": {"text": "POLY(I:C)", "offset": -1},
"layer": [
{"data": {"name": "bars"}, "transform": [{"filter": "datum.panel === 'cp'"}],
 "mark": {"type": "bar", "stroke": "black", "strokeWidth": 1.5},
 "encoding": {
  "x": {"field": "g", "type": "nominal", "scale": {"domain": ["NT","IFI44L-1","IFI44L-2"], "paddingInner": 0.65, "paddingOuter": 0.325}, "axis": {"title": null, "labelFontSize": 13, "labelPadding": 8, "ticks": false, "domain": false, "labelAngle": 0}},
  "y": {"field": "v", "type": "quantitative", "scale": {"type": "log", "domain": [1, 100000000], "nice": false}, "axis": {"title": null, "values": [10,100,1000,10000,100000,1000000,10000000,100000000], "tickCount": 30, "labelOverlap": false, "labelExpr": "'10' + ['','¹','²','³','⁴','⁵','⁶','⁷','⁸'][round(log(datum.value)/LN10)]", "labelFontSize": 15}},
  "y2": {"datum": 1},
  "color": {"field": "g", "type": "nominal", "scale": {"domain": ["NT","IFI44L-1","IFI44L-2"], "range": ["#000000","#6b6b6b","#6b6b6b"]}, "legend": null}}},
{"data": {"name": "bars"}, "transform": [{"filter": "datum.panel === 'cp'"}], "mark": {"type": "rule", "color": "#4a4a4a", "strokeWidth": 1.3},
 "encoding": {"x": {"field": "g", "type": "nominal", "scale": {"domain": ["NT","IFI44L-1","IFI44L-2"], "paddingInner": 0.65, "paddingOuter": 0.325}}, "y": {"field": "lo", "type": "quantitative"}, "y2": {"field": "hi"}}},
{"data": {"name": "bars"}, "transform": [{"filter": "datum.panel === 'cp'"}], "mark": {"type": "tick", "color": "#4a4a4a", "size": 6, "thickness": 1.3},
 "encoding": {"x": {"field": "g", "type": "nominal", "scale": {"domain": ["NT","IFI44L-1","IFI44L-2"], "paddingInner": 0.65, "paddingOuter": 0.325}}, "y": {"field": "lo", "type": "quantitative"}}},
{"data": {"name": "bars"}, "transform": [{"filter": "datum.panel === 'cp'"}], "mark": {"type": "tick", "color": "#4a4a4a", "size": 6, "thickness": 1.3},
 "encoding": {"x": {"field": "g", "type": "nominal", "scale": {"domain": ["NT","IFI44L-1","IFI44L-2"], "paddingInner": 0.65, "paddingOuter": 0.325}}, "y": {"field": "hi", "type": "quantitative"}}},
{"data": {"name": "br"}, "transform": [{"filter": "datum.panel === 'cp'"}], "mark": {"type": "rule", "color": "black", "strokeWidth": 2.5},
 "encoding": {"x": {"field": "a", "type": "nominal", "scale": {"domain": ["NT","IFI44L-1","IFI44L-2"], "paddingInner": 0.65, "paddingOuter": 0.325}}, "x2": {"field": "b"}, "y": {"field": "y", "type": "quantitative"}}},
{"data": {"name": "br"}, "transform": [{"filter": "datum.panel === 'cp'"}], "mark": {"type": "rule", "color": "black", "strokeWidth": 2.5},
 "encoding": {"x": {"field": "a", "type": "nominal", "scale": {"domain": ["NT","IFI44L-1","IFI44L-2"], "paddingInner": 0.65, "paddingOuter": 0.325}}, "y": {"field": "y", "type": "quantitative"}, "y2": {"field": "ye"}}},
{"data": {"name": "br"}, "transform": [{"filter": "datum.panel === 'cp'"}], "mark": {"type": "rule", "color": "black", "strokeWidth": 2.5},
 "encoding": {"x": {"field": "b", "type": "nominal", "scale": {"domain": ["NT","IFI44L-1","IFI44L-2"], "paddingInner": 0.65, "paddingOuter": 0.325}}, "y": {"field": "y", "type": "quantitative"}, "y2": {"field": "ye"}}},
{"data": {"name": "br"}, "transform": [{"filter": "datum.panel === 'cp' && datum.kind === 's'"}], "mark": {"type": "text", "dx": 22, "dy": -3, "baseline": "bottom", "fontSize": 12, "fontWeight": "bold", "color": "black"},
 "encoding": {"x": {"field": "a", "type": "nominal", "scale": {"domain": ["NT","IFI44L-1","IFI44L-2"], "paddingInner": 0.65, "paddingOuter": 0.325}}, "y": {"field": "y", "type": "quantitative"}, "text": {"field": "label"}}},
{"data": {"name": "br"}, "transform": [{"filter": "datum.panel === 'cp' && datum.kind === 'l'"}], "mark": {"type": "text", "dx": 40, "dy": -3, "baseline": "bottom", "fontSize": 12, "fontWeight": "bold", "color": "black"},
 "encoding": {"x": {"field": "a", "type": "nominal", "scale": {"domain": ["NT","IFI44L-1","IFI44L-2"], "paddingInner": 0.65, "paddingOuter": 0.325}}, "y": {"field": "y", "type": "quantitative"}, "text": {"field": "label"}}}
]
},
{
"width": 172, "height": 238,
"title": {"text": "IFN", "offset": -1},
"layer": [
{"data": {"name": "bars"}, "transform": [{"filter": "datum.panel === 'ci'"}],
 "mark": {"type": "bar", "stroke": "black", "strokeWidth": 1.5},
 "encoding": {
  "x": {"field": "g", "type": "nominal", "scale": {"domain": ["NT","IFI44L-1","IFI44L-2"], "paddingInner": 0.65, "paddingOuter": 0.325}, "axis": {"title": null, "labelFontSize": 13, "labelPadding": 8, "ticks": false, "domain": false, "labelAngle": 0}},
  "y": {"field": "v", "type": "quantitative", "scale": {"type": "log", "domain": [1, 100000000], "nice": false}, "axis": {"title": null, "values": [10,100,1000,10000,100000,1000000,10000000,100000000], "tickCount": 30, "labelOverlap": false, "labelExpr": "'10' + ['','¹','²','³','⁴','⁵','⁶','⁷','⁸'][round(log(datum.value)/LN10)]", "labelFontSize": 15}},
  "y2": {"datum": 1},
  "color": {"field": "g", "type": "nominal", "scale": {"domain": ["NT","IFI44L-1","IFI44L-2"], "range": ["#000000","#6b6b6b","#6b6b6b"]}, "legend": null}}},
{"data": {"name": "bars"}, "transform": [{"filter": "datum.panel === 'ci'"}], "mark": {"type": "rule", "color": "#4a4a4a", "strokeWidth": 1.3},
 "encoding": {"x": {"field": "g", "type": "nominal", "scale": {"domain": ["NT","IFI44L-1","IFI44L-2"], "paddingInner": 0.65, "paddingOuter": 0.325}}, "y": {"field": "lo", "type": "quantitative"}, "y2": {"field": "hi"}}},
{"data": {"name": "bars"}, "transform": [{"filter": "datum.panel === 'ci'"}], "mark": {"type": "tick", "color": "#4a4a4a", "size": 6, "thickness": 1.3},
 "encoding": {"x": {"field": "g", "type": "nominal", "scale": {"domain": ["NT","IFI44L-1","IFI44L-2"], "paddingInner": 0.65, "paddingOuter": 0.325}}, "y": {"field": "lo", "type": "quantitative"}}},
{"data": {"name": "bars"}, "transform": [{"filter": "datum.panel === 'ci'"}], "mark": {"type": "tick", "color": "#4a4a4a", "size": 6, "thickness": 1.3},
 "encoding": {"x": {"field": "g", "type": "nominal", "scale": {"domain": ["NT","IFI44L-1","IFI44L-2"], "paddingInner": 0.65, "paddingOuter": 0.325}}, "y": {"field": "hi", "type": "quantitative"}}},
{"data": {"name": "br"}, "transform": [{"filter": "datum.panel === 'ci'"}], "mark": {"type": "rule", "color": "black", "strokeWidth": 2.5},
 "encoding": {"x": {"field": "a", "type": "nominal", "scale": {"domain": ["NT","IFI44L-1","IFI44L-2"], "paddingInner": 0.65, "paddingOuter": 0.325}}, "x2": {"field": "b"}, "y": {"field": "y", "type": "quantitative"}}},
{"data": {"name": "br"}, "transform": [{"filter": "datum.panel === 'ci'"}], "mark": {"type": "rule", "color": "black", "strokeWidth": 2.5},
 "encoding": {"x": {"field": "a", "type": "nominal", "scale": {"domain": ["NT","IFI44L-1","IFI44L-2"], "paddingInner": 0.65, "paddingOuter": 0.325}}, "y": {"field": "y", "type": "quantitative"}, "y2": {"field": "ye"}}},
{"data": {"name": "br"}, "transform": [{"filter": "datum.panel === 'ci'"}], "mark": {"type": "rule", "color": "black", "strokeWidth": 2.5},
 "encoding": {"x": {"field": "b", "type": "nominal", "scale": {"domain": ["NT","IFI44L-1","IFI44L-2"], "paddingInner": 0.65, "paddingOuter": 0.325}}, "y": {"field": "y", "type": "quantitative"}, "y2": {"field": "ye"}}},
{"data": {"name": "br"}, "transform": [{"filter": "datum.panel === 'ci' && datum.kind === 's'"}], "mark": {"type": "text", "dx": 26, "dy": -3, "baseline": "bottom", "fontSize": 12, "fontWeight": "bold", "color": "black"},
 "encoding": {"x": {"field": "a", "type": "nominal", "scale": {"domain": ["NT","IFI44L-1","IFI44L-2"], "paddingInner": 0.65, "paddingOuter": 0.325}}, "y": {"field": "y", "type": "quantitative"}, "text": {"field": "label"}}},
{"data": {"name": "br"}, "transform": [{"filter": "datum.panel === 'ci' && datum.kind === 'l'"}], "mark": {"type": "text", "dx": 43, "dy": -3, "baseline": "bottom", "fontSize": 12, "fontWeight": "bold", "color": "black"},
 "encoding": {"x": {"field": "a", "type": "nominal", "scale": {"domain": ["NT","IFI44L-1","IFI44L-2"], "paddingInner": 0.65, "paddingOuter": 0.325}}, "y": {"field": "y", "type": "quantitative"}, "text": {"field": "label"}}}
]
}
]
}
]
}
